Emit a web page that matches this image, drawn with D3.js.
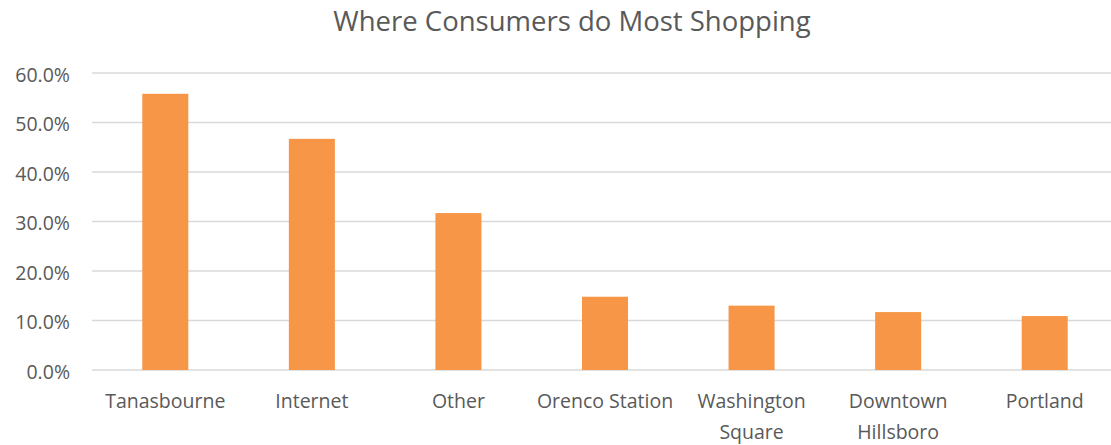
<!DOCTYPE html>
<html>
<head>
<meta charset="utf-8">
<script src="https://cdn.jsdelivr.net/npm/d3@7"></script>
<style>
  html, body { margin: 0; padding: 0; background: #fff; }
  svg { display: block; }
  text { font-family: "Open Sans", Lato, sans-serif; fill: #595959; }
</style>
</head>
<body>
<svg id="chart" width="1111" height="445"></svg>
<script>
// Share of consumers naming each place as where they do most of their shopping
const categories = ["Tanasbourne", "Internet", "Other", "Orenco Station", "Washington Square", "Downtown Hillsboro", "Portland"];
const shares = [0.558, 0.467, 0.317, 0.148, 0.130, 0.117, 0.109];
const yTicks = [0, 0.1, 0.2, 0.3, 0.4, 0.5, 0.6];
const title = "Where Consumers do Most Shopping";

(function draw() {
  const svg = d3.select("#chart");
  const plotLeft = 92, plotRight = 1118, plotTop = 73, plotBottom = 370;
  const font = "'Open Sans', Lato, sans-serif";

  const x = d3.scaleBand()
    .domain(categories)
    .range([plotLeft, plotRight])
    .paddingInner(0.686)
    .paddingOuter(0.343);

  const y = d3.scaleLinear().domain([0, 0.6]).range([plotBottom, plotTop]);

  // Gridlines
  svg.append("g")
    .selectAll("line")
    .data(yTicks)
    .join("line")
    .attr("x1", plotLeft).attr("x2", plotRight)
    .attr("y1", d => y(d)).attr("y2", d => y(d))
    .attr("stroke", "#d9d9d9")
    .attr("stroke-width", 1.5);

  // Y-axis labels
  const yAxis = d3.axisLeft(y).tickValues(yTicks).tickFormat(d3.format(".1%")).tickSize(0).tickPadding(0);
  const gy = svg.append("g").attr("transform", "translate(70,0)").call(yAxis);
  gy.select(".domain").remove();
  gy.selectAll("text")
    .attr("font-size", 19.5)
    .attr("font-family", font)
    .attr("fill", "#595959")
    .attr("dy", "0.42em");

  // Bars
  svg.append("g")
    .selectAll("rect")
    .data(categories)
    .join("rect")
    .attr("x", d => x(d))
    .attr("width", x.bandwidth())
    .attr("y", (d, i) => y(shares[i]))
    .attr("height", (d, i) => y(0) - y(shares[i]))
    .attr("fill", "#F79646");

  // Category labels, wrapped onto two lines where they would collide
  const wrapped = {
    "Washington Square": ["Washington", "Square"],
    "Downtown Hillsboro": ["Downtown", "Hillsboro"]
  };
  const xAxis = d3.axisBottom(x).tickSize(0).tickPadding(0);
  const gx = svg.append("g").attr("transform", `translate(0,${plotBottom})`).call(xAxis);
  gx.select(".domain").remove();
  gx.selectAll("text").each(function(d) {
    const t = d3.select(this);
    const lines = wrapped[d] || [d];
    t.text(null)
      .attr("y", 0)
      .attr("dy", null)
      .attr("font-size", 19.5)
      .attr("font-family", font)
      .attr("fill", "#595959");
    lines.forEach((ln, i) => {
      t.append("tspan")
        .attr("x", 0)
        .attr("y", 38 + i * 31)
        .text(ln);
    });
  });

  // Title
  svg.append("text")
    .attr("x", 572)
    .attr("y", 31)
    .attr("text-anchor", "middle")
    .attr("font-size", 27.5)
    .text(title);
})();
</script>
</body>
</html>
